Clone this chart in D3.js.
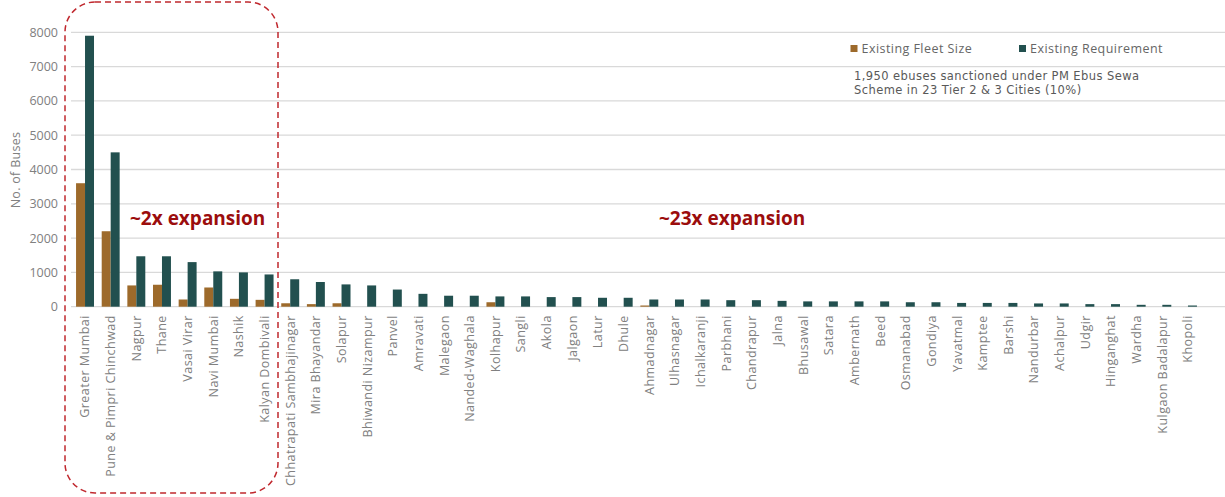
<!DOCTYPE html>
<html><head><meta charset="utf-8">
<script src="https://cdn.jsdelivr.net/npm/d3@7"></script>
<style>
body{margin:0;background:#fff;}
text{font-family:"Open Sans","Noto Sans",sans-serif;}
</style></head>
<body><svg id="chart" width="1225" height="497"></svg>
<script>
const cities = ["Greater Mumbai","Pune & Pimpri Chinchwad","Nagpur","Thane","Vasai Virar","Navi Mumbai","Nashik","Kalyan Dombivali","Chhatrapati Sambhajinagar","Mira Bhayandar","Solapur","Bhiwandi Nizampur","Panvel","Amravati","Malegaon","Nanded-Waghala","Kolhapur","Sangli","Akola","Jalgaon","Latur","Dhule","Ahmadnagar","Ulhasnagar","Ichalkaranji","Parbhani","Chandrapur","Jalna","Bhusawal","Satara","Ambernath","Beed","Osmanabad","Gondiya","Yavatmal","Kamptee","Barshi","Nandurbar","Achalpur","Udgir","Hinganghat","Wardha","Kulgaon Badalapur","Khopoli"];
const fleetSize = [3600,2200,620,640,210,560,230,200,100,75,100,0,0,0,0,0,130,0,0,0,0,0,35,0,0,0,0,0,0,0,0,0,0,0,0,0,0,0,0,0,0,0,0,0];
const requirement = [7900,4500,1470,1470,1300,1030,1000,940,800,720,650,620,500,375,320,320,300,300,280,280,260,260,210,210,210,190,190,170,155,155,155,155,130,130,110,110,110,95,95,75,75,55,55,35];
const yTicks = [0,1000,2000,3000,4000,5000,6000,7000,8000];
const seriesNames = ["Existing Fleet Size","Existing Requirement"];
const seriesColors = ["#9d6a2b","#22504f"];
const yTitle = "No. of Buses";
const noteLines = ["1,950 ebuses sanctioned under PM Ebus Sewa","Scheme in 23 Tier 2 & 3 Cities (10%)"];
const groupLabels = ["~2x expansion","~23x expansion"];

const svg = d3.select("#chart");
const plotLeft = 71, plotRight = 1225;
const x = d3.scaleBand().domain(cities).range([72.2, 1200.8]).paddingInner(0.3).paddingOuter(0.15);
const x1 = d3.scaleBand().domain([0,1]).range([0, x.bandwidth()]);
const y = d3.scaleLinear().domain([0,8000]).range([306.7, 32.3]);

// gridlines
svg.append("g").selectAll("line").data(yTicks).join("line")
  .attr("x1", plotLeft).attr("x2", plotRight)
  .attr("y1", d=>y(d)).attr("y2", d=>y(d))
  .attr("stroke","#d9d9d9").attr("stroke-width",1.3);

// y axis labels
const yAxis = d3.axisLeft(y).tickValues(yTicks).tickSize(0).tickPadding(0).tickFormat(d3.format("d"));
const ya = svg.append("g").attr("transform","translate(58,0)").call(yAxis);
ya.select(".domain").remove();
ya.selectAll("text").attr("fill","#808080").style("font-size","12.5px").style("font-family","'Open Sans',sans-serif");

svg.append("text").attr("transform","translate(20,170) rotate(-90)")
  .attr("text-anchor","middle").attr("fill","#808080").style("font-size","12.5px").style("letter-spacing","0.3px").text(yTitle);

// bars
const g = svg.append("g");
cities.forEach((c,i)=>{
  [fleetSize[i], requirement[i]].forEach((v,k)=>{
    if(v<=0) return;
    g.append("rect")
      .attr("x", x(c)+x1(k)).attr("width", x1.bandwidth())
      .attr("y", y(v)).attr("height", y(0)-y(v))
      .attr("fill", seriesColors[k]);
  });
});

// x labels
const xAxis = d3.axisBottom(x).tickSize(0).tickPadding(0);
const xa = svg.append("g").attr("transform","translate(0,306.7)").call(xAxis);
xa.select(".domain").remove();
xa.selectAll("text").attr("transform","rotate(-90)").attr("text-anchor","end")
  .attr("x",-8.5).attr("y",0).attr("dy","0.35em")
  .attr("fill","#808080").style("font-size","12.5px").style("letter-spacing","0.45px")
  .style("font-family","'Open Sans',sans-serif");

// legend
const leg = svg.append("g");
const legX = [850.5, 1019];
seriesNames.forEach((n,k)=>{
  leg.append("rect").attr("x",legX[k]).attr("y",45).attr("width",7).attr("height",7).attr("fill",seriesColors[k]);
  leg.append("text").attr("x",legX[k]+11).attr("y",53).attr("fill","#666").style("font-size","12.5px")
    .style("letter-spacing","0.45px").text(n);
});
const note = svg.append("text").attr("x",854).attr("y",80).attr("fill","#595959")
  .style("font-family","'DejaVu Sans',sans-serif").style("font-size","11.5px").style("letter-spacing","0.42px");
noteLines.forEach((t,i)=>{
  note.append("tspan").attr("x",854).attr("dy", i===0 ? 0 : 14.2).text(t);
});

// group labels
svg.append("text").attr("x",130).attr("y",225).attr("fill","#9b0d0d").style("font-size","19px").style("font-weight","bold").text(groupLabels[0]);
svg.append("text").attr("x",659).attr("y",225).attr("fill","#9b0d0d").style("font-size","19px").style("font-weight","bold").text(groupLabels[1]);

// dashed box
svg.append("rect").attr("x",65).attr("y",2).attr("width",213).attr("height",491).attr("rx",30).attr("ry",30)
  .attr("fill","none").attr("stroke","#c0282e").attr("stroke-width",1.5).attr("stroke-dasharray","6,4");
</script></body></html>
